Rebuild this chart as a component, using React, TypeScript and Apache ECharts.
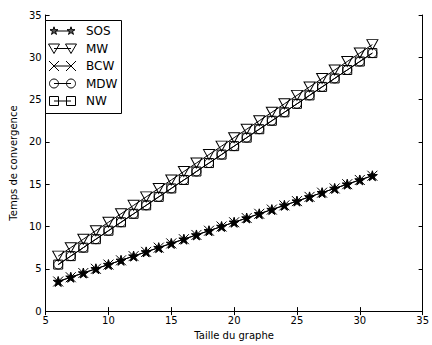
import React, { useEffect, useRef } from "react";
import * as echarts from "echarts";

const xValues = [6, 7, 8, 9, 10, 11, 12, 13, 14, 15, 16, 17, 18, 19, 20, 21, 22, 23, 24, 25, 26, 27, 28, 29, 30, 31];
const sos = [3.5, 4, 4.5, 5, 5.5, 6, 6.5, 7, 7.5, 8, 8.5, 9, 9.5, 10, 10.5, 11, 11.5, 12, 12.5, 13, 13.5, 14, 14.5, 15, 15.5, 16];
const mw = [6.5, 7.5, 8.5, 9.5, 10.5, 11.5, 12.5, 13.5, 14.5, 15.5, 16.5, 17.5, 18.5, 19.5, 20.5, 21.5, 22.5, 23.5, 24.5, 25.5, 26.5, 27.5, 28.5, 29.5, 30.5, 31.5];
const bcw = [3.5, 4, 4.5, 5, 5.5, 6, 6.5, 7, 7.5, 8, 8.5, 9, 9.5, 10, 10.5, 11, 11.5, 12, 12.5, 13, 13.5, 14, 14.5, 15, 15.5, 16];
const mdw = [5.5, 6.5, 7.5, 8.5, 9.5, 10.5, 11.5, 12.5, 13.5, 14.5, 15.5, 16.5, 17.5, 18.5, 19.5, 20.5, 21.5, 22.5, 23.5, 24.5, 25.5, 26.5, 27.5, 28.5, 29.5, 30.5];
const nw = [5.5, 6.5, 7.5, 8.5, 9.5, 10.5, 11.5, 12.5, 13.5, 14.5, 15.5, 16.5, 17.5, 18.5, 19.5, 20.5, 21.5, 22.5, 23.5, 24.5, 25.5, 26.5, 27.5, 28.5, 29.5, 30.5];
const seriesNames = ["SOS", "MW", "BCW", "MDW", "NW"];

const FONT = "DejaVu Sans";
const STAR = "path://M50,0L61.2,34.5L97.6,34.5L68.2,55.9L79.4,90.5L50,69.1L20.6,90.5L31.8,55.9L2.4,34.5L38.8,34.5Z";
const XMARK = "path://M0,0L10,10M10,0L0,10";

function starPoints(cx: number, cy: number, r: number): number[][] {
  const pts: number[][] = [];
  for (let i = 0; i < 10; i++) {
    const a = (-90 + i * 36) * Math.PI / 180;
    const rr = i % 2 === 0 ? r : r * 0.382;
    pts.push([cx + rr * Math.cos(a), cy + rr * Math.sin(a)]);
  }
  return pts;
}

function legendMarker(kind: string, cx: number, cy: number): any[] {
  const st = { stroke: "#000", lineWidth: 1, fill: "none" };
  if (kind === "SOS") return [{ type: "polygon", shape: { points: starPoints(cx, cy, 4.2) }, style: { stroke: "#000", lineWidth: 1, fill: "#555" } }];
  if (kind === "MW") return [{ type: "polygon", shape: { points: [[cx - 5.5, cy - 4.5], [cx + 5.5, cy - 4.5], [cx, cy + 5]] }, style: st }];
  if (kind === "BCW") return [
    { type: "line", shape: { x1: cx - 5, y1: cy - 5, x2: cx + 5, y2: cy + 5 }, style: st },
    { type: "line", shape: { x1: cx - 5, y1: cy + 5, x2: cx + 5, y2: cy - 5 }, style: st },
  ];
  if (kind === "MDW") return [{ type: "circle", shape: { cx, cy, r: 4.5 }, style: st }];
  return [{ type: "rect", shape: { x: cx - 4.5, y: cy - 4.5, width: 9, height: 9 }, style: st }];
}

export default function App() {
  const ref = useRef<HTMLDivElement>(null);
  useEffect(() => {
    if (!ref.current) return;
    const chart = echarts.init(ref.current, null, { renderer: "svg" });
    const mk = (ys: number[]) => xValues.map((x, i) => [x, ys[i]]);
    const base = {
      type: "line",
      lineStyle: { color: "#000", width: 1 },
      itemStyle: { color: "none", borderColor: "#000", borderWidth: 1 },
      showAllSymbol: true,
    };
    const graphics: any[] = [
      { type: "rect", shape: { x: 45.5, y: 20.5, width: 76, height: 93 }, style: { fill: "#fff", stroke: "#000", lineWidth: 1 }, z: 100 },
    ];
    seriesNames.forEach((n, i) => {
      const cy = 31 + i * 17.5;
      graphics.push({ type: "line", shape: { x1: 54, y1: cy, x2: 71, y2: cy }, style: { stroke: "#000", lineWidth: 1 }, z: 101 });
      legendMarker(n, 54, cy).forEach((g) => graphics.push({ ...g, z: 102 }));
      legendMarker(n, 71, cy).forEach((g) => graphics.push({ ...g, z: 102 }));
      graphics.push({ type: "text", x: 86, y: cy, style: { text: n, fontFamily: FONT, fontSize: 12, fill: "#000", verticalAlign: "middle" }, z: 102 });
    });
    const axisCommon = {
      axisLine: { show: true, lineStyle: { color: "#000", width: 1 } },
      axisTick: { show: true, inside: true, length: 4, lineStyle: { color: "#000" } },
      splitLine: { show: false },
    };
    chart.setOption({
      animation: false,
      backgroundColor: "#fff",
      grid: { left: 40, right: 6, top: 15, bottom: 32 },
      xAxis: [
        {
          type: "value", min: 5, max: 35, interval: 5, position: "bottom",
          name: "Taille du graphe", nameLocation: "middle", nameGap: 18,
          nameTextStyle: { fontFamily: FONT, fontSize: 10, color: "#000" },
          axisLabel: { fontFamily: FONT, fontSize: 10, color: "#000", margin: 4 },
          ...axisCommon,
        },
        { type: "value", min: 5, max: 35, interval: 5, position: "top", axisLabel: { show: false }, ...axisCommon },
      ],
      yAxis: [
        {
          type: "value", min: 0, max: 35, interval: 5, position: "left",
          name: "Temps de convergence", nameLocation: "middle", nameGap: 22, nameRotate: 90,
          nameTextStyle: { fontFamily: FONT, fontSize: 10, color: "#000" },
          axisLabel: { fontFamily: FONT, fontSize: 10, color: "#000", margin: 4 },
          ...axisCommon,
        },
        { type: "value", min: 0, max: 35, interval: 5, position: "right", axisLabel: { show: false }, ...axisCommon },
      ],
      graphic: graphics,
      series: [
        { ...base, name: "SOS", data: mk(sos), symbol: STAR, symbolSize: 10, itemStyle: { color: "#000", borderColor: "#000", borderWidth: 1 } },
        { ...base, name: "MW", data: mk(mw), symbol: "triangle", symbolRotate: 180, symbolSize: [11, 10] },
        { ...base, name: "BCW", data: mk(bcw), symbol: XMARK, symbolSize: 10 },
        { ...base, name: "MDW", data: mk(mdw), symbol: "circle", symbolSize: 9 },
        { ...base, name: "NW", data: mk(nw), symbol: "rect", symbolSize: 9 },
      ],
    });
    return () => chart.dispose();
  }, []);
  return <div ref={ref} style={{ width: 432, height: 345, position: "absolute", left: 0, top: 0 }} />;
}
